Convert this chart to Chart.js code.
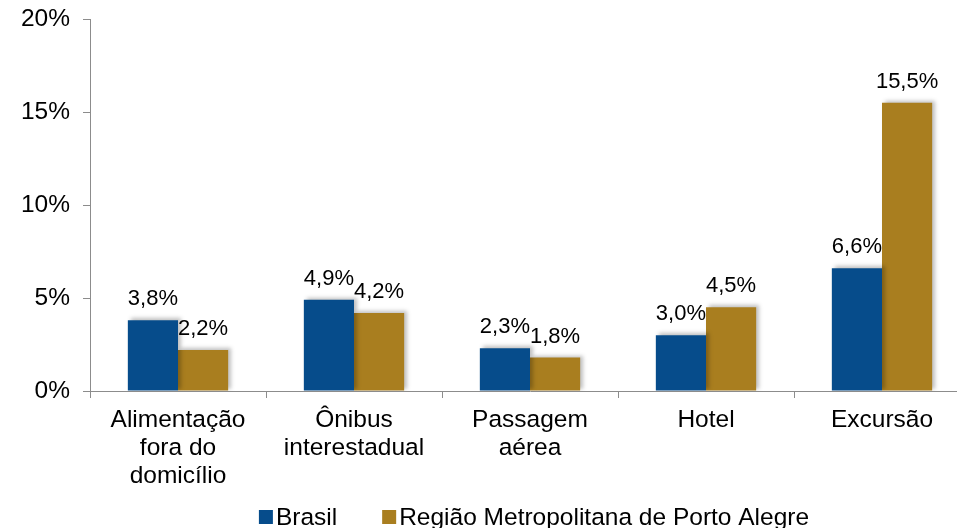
<!DOCTYPE html>
<html>
<head>
<meta charset="utf-8">
<script src="https://cdn.jsdelivr.net/npm/chart.js@4.4.1/dist/chart.umd.min.js"></script>
<style>
  html, body { margin: 0; padding: 0; background: #fff; overflow: hidden; }
  #wrap { position: absolute; left: 0; top: 0; width: 1068px; height: 528px; }
</style>
</head>
<body>
<div id="wrap"><canvas id="c" width="1068" height="528"></canvas></div>
<script>
const categories = [
  ["Alimentação", "fora do", "domicílio"],
  ["Ônibus", "interestadual"],
  ["Passagem", "aérea"],
  "Hotel",
  "Excursão"
];
const seriesNames = ["Brasil", "Região Metropolitana de Porto Alegre"];
const brasil = [3.8, 4.9, 2.3, 3.0, 6.6];
const portoAlegre = [2.2, 4.2, 1.8, 4.5, 15.5];
const yTicks = [0, 5, 10, 15, 20];

const FONT = "'Liberation Sans', Arial, sans-serif";
const BLUE = "#064C8B";
const GOLD = "#A97E1F";
const AXIS = "#8C8C8C";
const TICK_SIZE = 24.5;

const fmt = v => v.toFixed(1).replace(".", ",") + "%";

const shadowPlugin = {
  id: "shadow",
  beforeDatasetDraw(chart) {
    const ctx = chart.ctx;
    ctx.save();
    ctx.shadowColor = "rgba(0,0,0,0.25)";
    ctx.shadowBlur = 4;
    ctx.shadowOffsetX = 3;
    ctx.shadowOffsetY = -2;
  },
  afterDatasetDraw(chart) {
    chart.ctx.restore();
  }
};

const labelPlugin = {
  id: "valueLabels",
  afterDatasetsDraw(chart) {
    const ctx = chart.ctx;
    ctx.save();
    ctx.font = "22px " + FONT;
    ctx.fillStyle = "#000";
    ctx.textAlign = "center";
    ctx.textBaseline = "bottom";
    chart.data.datasets.forEach((ds, i) => {
      const meta = chart.getDatasetMeta(i);
      meta.data.forEach((bar, j) => {
        ctx.fillText(fmt(ds.data[j]), bar.x, bar.y - 10);
      });
    });
    ctx.restore();
  }
};

// Legend drawn from the datasets (box + 3px gap + text), centred under the chart
const legendPlugin = {
  id: "customLegend",
  afterDraw(chart) {
    const ctx = chart.ctx;
    ctx.save();
    ctx.font = TICK_SIZE + "px " + FONT;
    ctx.textBaseline = "middle";
    ctx.textAlign = "left";
    const box = 14, gap = 3, itemGap = 45;
    const items = chart.data.datasets.map(ds => ({
      text: ds.label, color: ds.backgroundColor, w: box + gap + ctx.measureText(ds.label).width
    }));
    const total = items.reduce((s, it) => s + it.w, 0) + itemGap * (items.length - 1);
    let x = chart.width / 2 - total / 2;
    const y = chart.height - 11;
    items.forEach(it => {
      ctx.fillStyle = it.color;
      ctx.fillRect(x, y - box / 2, box, box);
      ctx.fillStyle = "#000";
      ctx.fillText(it.text, x + box + gap, y + 1);
      x += it.w + itemGap;
    });
    ctx.restore();
  }
};

new Chart(document.getElementById("c"), {
  type: "bar",
  data: {
    labels: categories,
    datasets: [
      { label: seriesNames[0], data: brasil, backgroundColor: BLUE },
      { label: seriesNames[1], data: portoAlegre, backgroundColor: GOLD }
    ]
  },
  options: {
    responsive: false,
    animation: false,
    devicePixelRatio: 1,
    layout: { padding: { left: 0, right: 98, top: 19, bottom: 37 } },
    datasets: { bar: { categoryPercentage: 0.57, barPercentage: 1.0 } },
    plugins: {
      tooltip: { enabled: false },
      legend: { display: false }
    },
    scales: {
      x: {
        grid: { display: true, drawOnChartArea: false, offset: true, color: AXIS, tickLength: 7, tickColor: AXIS },
        border: { display: true, color: AXIS, width: 1 },
        ticks: {
          color: "#000",
          font: { family: FONT, size: TICK_SIZE, lineHeight: 1.15 },
          padding: 8,
          maxRotation: 0,
          autoSkip: false
        },
        afterFit(scale) { scale.height = 100; scale.paddingLeft = 0; scale.paddingRight = 0; }
      },
      y: {
        min: 0,
        max: 20,
        afterBuildTicks(scale) { scale.ticks = yTicks.map(v => ({ value: v })); },
        grid: { display: true, drawOnChartArea: false, color: AXIS, tickLength: 7, tickColor: AXIS },
        border: { display: true, color: AXIS, width: 1 },
        ticks: {
          color: "#000",
          font: { family: FONT, size: TICK_SIZE },
          padding: 13,
          callback: v => v + "%"
        },
        afterFit(scale) { scale.width = 90; scale.paddingTop = 0; scale.paddingBottom = 0; }
      }
    }
  },
  plugins: [shadowPlugin, labelPlugin, legendPlugin]
});
</script>
</body>
</html>
